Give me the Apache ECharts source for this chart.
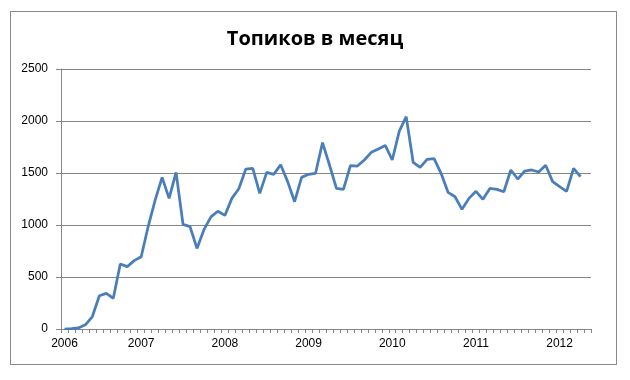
<!DOCTYPE html>
<html><head><meta charset="utf-8">
<script src="https://cdn.jsdelivr.net/npm/echarts@6/dist/echarts.min.js"></script>
<style>html,body{margin:0;padding:0;background:#fff;}#c{width:630px;height:380px;position:relative;}
#frame{position:absolute;left:10px;top:11px;width:605px;height:352px;border:1px solid #8a8a8a;pointer-events:none;}</style>
</head><body><div id="c"></div><div id="frame"></div>
<script>
var titleText = 'Топиков в месяц';
var months = [];
(function(){ for (var y = 2006; y <= 2012; y++) for (var m = 1; m <= 12; m++) { if (y === 2006 && m < 2) continue; if (y === 2012 && m > 5) continue; months.push(y + '-' + (m < 10 ? '0' + m : m)); } })();
var topics = [0, 3, 10, 40, 120, 320, 343, 295, 625, 600, 657, 695,
  985, 1240, 1458, 1256, 1506, 1006, 984, 775, 955, 1078, 1132, 1092,
  1256, 1348, 1538, 1545, 1304, 1506, 1487, 1580, 1417, 1224, 1458, 1487,
  1497, 1792, 1577, 1352, 1343, 1570, 1567, 1625, 1699, 1731, 1765, 1625,
  1900, 2042, 1603, 1554, 1631, 1638, 1497, 1314, 1272, 1151, 1256, 1324,
  1247, 1352, 1343, 1320, 1529, 1442, 1519, 1529, 1510, 1574, 1417, 1369,
  1324, 1545, 1465];
var labelIndices = [0, 11, 23, 35, 47, 59, 71];
var yTicks = [0, 500, 1000, 1500, 2000, 2500];

var chart = echarts.init(document.getElementById('c'));
chart.setOption({
  animation: false,
  backgroundColor: '#fff',
  title: { text: titleText, left: 'center', top: 24,
    textStyle: { fontFamily: 'Open Sans', fontSize: 20, fontWeight: 'bold', color: '#000' } },
  grid: { left: 61, right: 39, top: 69, bottom: 51 },
  xAxis: {
    type: 'category', data: months, boundaryGap: true,
    axisLine: { lineStyle: { color: '#868686', width: 1 } },
    axisTick: { show: true, interval: 0, length: 4, lineStyle: { color: '#868686' } },
    axisLabel: {
      interval: function (i) { return labelIndices.indexOf(i) >= 0; },
      formatter: function (v) { return v.slice(0, 4); },
      color: '#000', fontFamily: 'Liberation Sans', fontSize: 12, margin: 9
    },
    splitLine: { show: false }
  },
  yAxis: {
    type: 'value', min: yTicks[0], max: yTicks[yTicks.length - 1], interval: 500,
    axisLine: { show: true, lineStyle: { color: '#868686', width: 1 } },
    axisTick: { show: true, length: 5, lineStyle: { color: '#868686' } },
    axisLabel: { color: '#000', fontFamily: 'Liberation Sans', fontSize: 12, margin: 13,
      formatter: function (v) { return String(v); } },
    splitLine: { lineStyle: { color: '#868686', width: 1 } }
  },
  series: [{
    type: 'line', data: topics, symbol: 'none',
    lineStyle: { color: '#4a7ebb', width: 2.75 }
  }]
});
</script></body></html>
